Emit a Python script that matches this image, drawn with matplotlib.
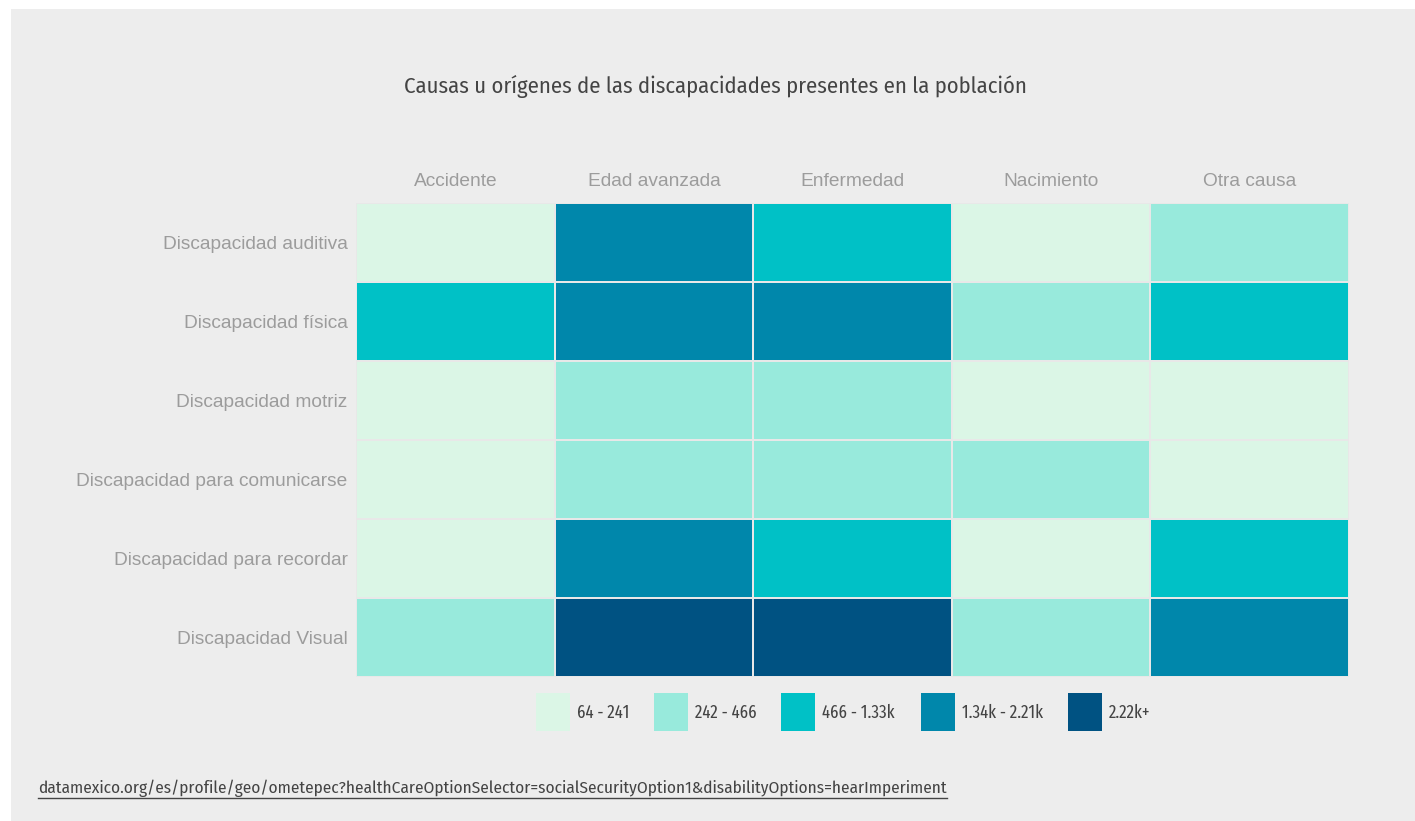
import matplotlib
matplotlib.use("Agg")
import matplotlib.pyplot as plt
import numpy as np
from matplotlib.colors import ListedColormap, BoundaryNorm
from matplotlib.patches import Rectangle
from matplotlib import font_manager
from matplotlib.font_manager import FontProperties

# ---- data ----
columns = ["Accidente", "Edad avanzada", "Enfermedad", "Nacimiento", "Otra causa"]
rows = ["Discapacidad auditiva", "Discapacidad física", "Discapacidad motriz",
        "Discapacidad para comunicarse", "Discapacidad para recordar", "Discapacidad Visual"]
auditiva = [150, 1800, 900, 120, 350]
fisica = [700, 2000, 1900, 300, 800]
motriz = [180, 400, 380, 100, 200]
comunicarse = [90, 320, 300, 260, 70]
recordar = [110, 1500, 700, 160, 600]
visual = [420, 2600, 2500, 330, 1600]
bin_edges = [64, 241.5, 466.5, 1335, 2215, 3000]
bin_labels = ["64 - 241", "242 - 466", "466 - 1.33k", "1.34k - 2.21k", "2.22k+"]
bin_colors = ["#dbf6e6", "#98eadc", "#00c1c6", "#0087ab", "#005282"]

title = "Causas u orígenes de las discapacidades presentes en la población"
source = "datamexico.org/es/profile/geo/ometepec?healthCareOptionSelector=socialSecurityOption1&disabilityOptions=hearImperiment"

W, H = 1415, 821
fig = plt.figure(figsize=(W / 100, H / 100), dpi=100, facecolor="white")

def fx(px):
    return px / W

def fy(py):
    return 1 - py / H

def find_font(name):
    for f in font_manager.fontManager.ttflist:
        if f.name == name and f.style == "normal" and f.weight in (400, "normal", "regular"):
            return FontProperties(fname=f.fname)
    return None

cond_fp = find_font("Fira Sans Condensed")
xcond_fp = find_font("Fira Sans Extra Condensed")
if cond_fp is None:
    cond_fp = FontProperties(family="DejaVu Sans", stretch="condensed")
if xcond_fp is None:
    xcond_fp = cond_fp

sans = "Liberation Sans"

# gray panel
fig.add_artist(Rectangle((fx(11), 0), 1 - fx(11), fy(9), transform=fig.transFigure,
                         facecolor="#ededed", edgecolor="none", zorder=0))

data = np.array([auditiva, fisica, motriz, comunicarse, recordar, visual])
cmap = ListedColormap(bin_colors)
norm = BoundaryNorm(bin_edges, cmap.N)

ax = fig.add_axes([fx(356), fy(677), fx(1349) - fx(356), (677 - 203) / H])
ax.set_facecolor("#ededed")
ax.pcolormesh(np.arange(len(columns) + 1), np.arange(len(rows) + 1), data,
              cmap=cmap, norm=norm, edgecolors="#e8e8e8", linewidth=1.4)
ax.set_xlim(0, len(columns))
ax.set_ylim(len(rows), 0)
for s in ax.spines.values():
    s.set_visible(False)
ax.xaxis.tick_top()
ax.set_xticks(np.arange(len(columns)) + 0.5)
ax.set_xticklabels(columns, fontsize=13.8, color="#9c9c9c", family=sans)
ax.set_yticks(np.arange(len(rows)) + 0.5)
ax.set_yticklabels(rows, fontsize=13.8, color="#9c9c9c", family=sans)
ax.tick_params(length=0, pad=6)
ax.tick_params(axis="x", pad=9)

renderer = fig.canvas.get_renderer()

def size_for(fp, s, target_w, size0=12):
    p = fp.copy(); p.set_size(size0)
    t = fig.text(0, 0, s, fontproperties=p)
    w = t.get_window_extent(renderer).width
    t.remove()
    return size0 * target_w / w

def with_size(fp, size):
    p = fp.copy(); p.set_size(size)
    return p

fig.text(fx(715.5), fy(86), title, ha="center", va="center", color="#444444",
         fontproperties=with_size(cond_fp, size_for(cond_fp, title, 625)))

# legend
sq_x = [536, 654, 781, 921, 1068]
leg_size = size_for(xcond_fp, bin_labels[3], 81)
for x0, lab, col in zip(sq_x, bin_labels, bin_colors):
    fig.add_artist(Rectangle((fx(x0), fy(731)), fx(34), 38 / H, transform=fig.transFigure,
                             facecolor=col, edgecolor="none"))
    fig.text(fx(x0 + 41), fy(713), lab, ha="left", va="center",
             fontproperties=with_size(xcond_fp, leg_size), color="#444444")

t = fig.text(fx(38), fy(788), source, ha="left", va="center", color="#444444",
             fontproperties=with_size(cond_fp, size_for(cond_fp, source, 915)))
fig.canvas.draw()
bb = t.get_window_extent()
x0, x1 = bb.x0 / W, bb.x1 / W
yl = (bb.y0 - 1) / H
fig.add_artist(plt.Line2D([x0, x1], [yl, yl], transform=fig.transFigure,
                          color="#444444", linewidth=1))

fig.savefig("out.png", dpi=100, facecolor="white")
